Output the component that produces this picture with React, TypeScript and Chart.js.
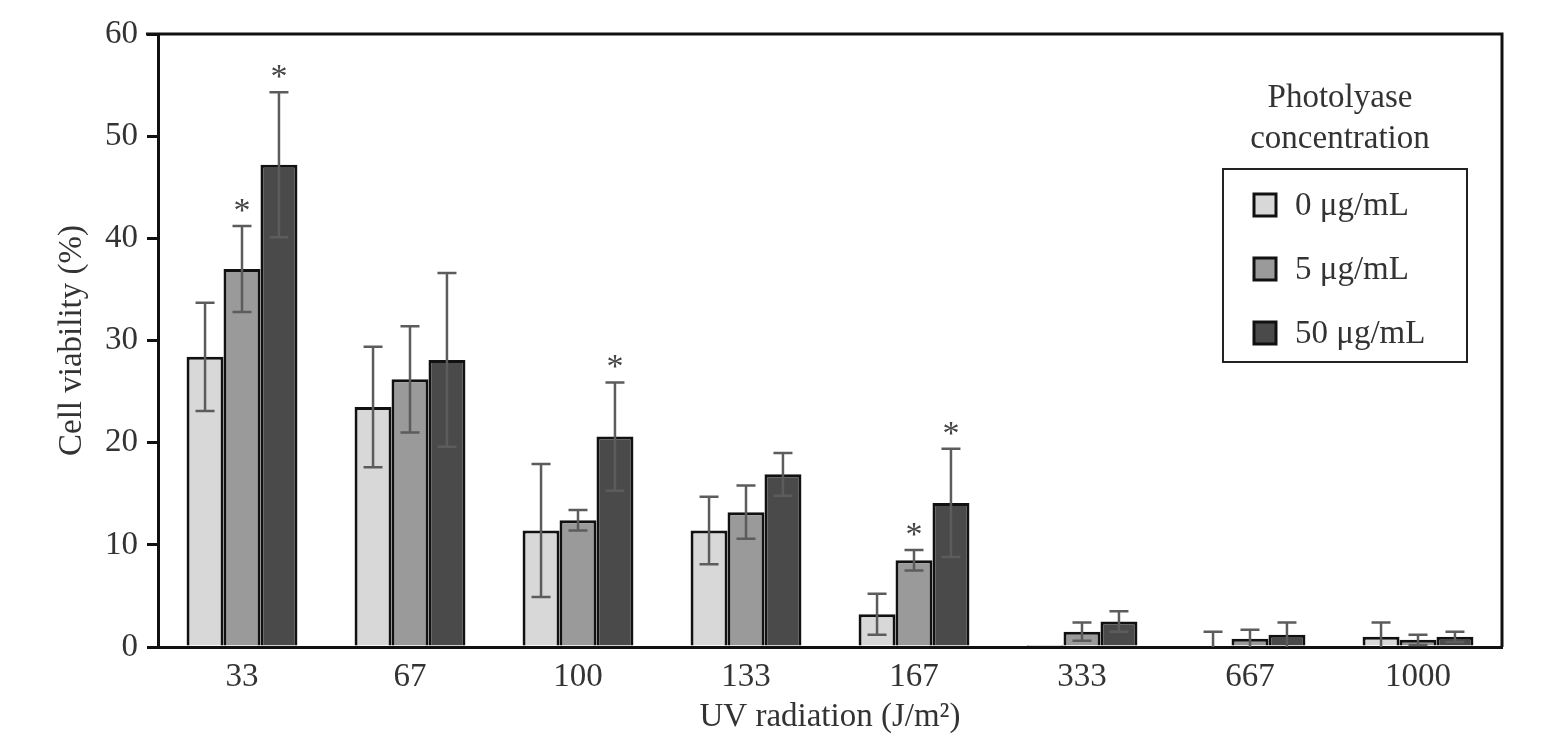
import React, { useEffect, useRef } from "react";
import { Chart, registerables } from "chart.js";

Chart.register(...registerables);

const categories = ["33", "67", "100", "133", "167", "333", "667", "1000"];
const seriesLabels = ["0 μg/mL", "5 μg/mL", "50 μg/mL"];
const seriesColors = ["#d8d8d8", "#9a9a9a", "#4a4a4a"];

const values0 = [28.4, 23.5, 11.4, 11.4, 3.2, 0.2, 0.0, 1.0];
const values5 = [37.0, 26.2, 12.4, 13.2, 8.5, 1.5, 0.8, 0.7];
const values50 = [47.2, 28.1, 20.6, 16.9, 14.1, 2.5, 1.2, 1.0];

const errors0 = [5.3, 5.9, 6.5, 3.3, 2.0, 0, 1.5, 1.4];
const errors5 = [4.2, 5.2, 1.0, 2.6, 1.0, 0.9, 0.9, 0.5];
const errors50 = [7.1, 8.5, 5.3, 2.1, 5.3, 1.0, 1.2, 0.5];

// significance markers: [seriesIndex, categoryIndex]
const significance: [number, number][] = [
  [1, 0],
  [2, 0],
  [2, 2],
  [1, 4],
  [2, 4],
];

const yTicks = [0, 10, 20, 30, 40, 50, 60];
const legendTitle = ["Photolyase", "concentration"];
const yTitle = "Cell viability (%)";
const xTitle = "UV radiation (J/m²)";

const FONT = "'Liberation Serif', 'DejaVu Serif', serif";
const TEXT = "#333333";
const FS = 33;

const allValues = [values0, values5, values50];
const allErrors = [errors0, errors5, errors50];

const overlayPlugin = {
  id: "overlay",
  afterDatasetsDraw(chart: any) {
    const { ctx, chartArea } = chart;
    const y = chart.scales.y;
    ctx.save();
    ctx.save();
    ctx.beginPath();
    ctx.rect(chartArea.left, chartArea.top, chartArea.right - chartArea.left, chartArea.bottom - chartArea.top);
    ctx.clip();
    ctx.strokeStyle = "#5c5c5c";
    ctx.lineWidth = 2.5;
    allValues.forEach((vals, si) => {
      const meta = chart.getDatasetMeta(si);
      vals.forEach((v, ci) => {
        const e = allErrors[si][ci];
        if (!e) return;
        const bar = meta.data[ci];
        const x = bar.x;
        const yTop = y.getPixelForValue(v + e);
        const yBot = y.getPixelForValue(Math.max(v - e, 0));
        const cap = 9.5;
        ctx.beginPath();
        ctx.moveTo(x, yTop);
        ctx.lineTo(x, yBot);
        ctx.moveTo(x - cap, yTop);
        ctx.lineTo(x + cap, yTop);
        if (v - e > 0) {
          ctx.moveTo(x - cap, yBot);
          ctx.lineTo(x + cap, yBot);
        }
        ctx.stroke();
      });
    });
    ctx.restore();

    // asterisks
    ctx.fillStyle = "#444444";
    ctx.font = `34px ${FONT}`;
    ctx.textAlign = "center";
    ctx.textBaseline = "alphabetic";
    significance.forEach(([si, ci]) => {
      const bar = chart.getDatasetMeta(si).data[ci];
      const top = y.getPixelForValue(allValues[si][ci] + allErrors[si][ci]);
      ctx.fillText("*", bar.x, top - 5);
    });

    // top and right frame
    ctx.strokeStyle = "#111111";
    ctx.lineWidth = 3;
    ctx.beginPath();
    ctx.moveTo(chartArea.left - 12, chartArea.top);
    ctx.lineTo(chartArea.right, chartArea.top);
    ctx.lineTo(chartArea.right, chartArea.bottom);
    ctx.stroke();

    // legend
    ctx.fillStyle = TEXT;
    ctx.font = `${FS}px ${FONT}`;
    ctx.textAlign = "center";
    ctx.textBaseline = "middle";
    ctx.fillText(legendTitle[0], 1340, 98);
    ctx.fillText(legendTitle[1], 1340, 139);
    ctx.strokeStyle = "#222222";
    ctx.lineWidth = 2;
    ctx.strokeRect(1223, 169, 244, 193);
    ctx.textAlign = "left";
    seriesLabels.forEach((lab, i) => {
      const cy = 205 + i * 64;
      ctx.fillStyle = seriesColors[i];
      ctx.fillRect(1254, cy - 11, 22, 22);
      ctx.strokeStyle = "#111111";
      ctx.lineWidth = 3;
      ctx.strokeRect(1254, cy - 11, 22, 22);
      ctx.fillStyle = TEXT;
      ctx.fillText(lab, 1295, cy + 1);
    });
    ctx.restore();
  },
};

export default function App() {
  const ref = useRef<HTMLCanvasElement | null>(null);
  useEffect(() => {
    document.body.style.margin = "0";
    const canvas = ref.current;
    if (!canvas) return;
    const chart = new Chart(canvas, {
      type: "bar",
      data: {
        labels: categories,
        datasets: allValues.map((vals, i) => ({
          label: seriesLabels[i],
          data: vals,
          backgroundColor: seriesColors[i],
          borderColor: "#111111",
          borderWidth: 3,
          categoryPercentage: 0.66,
          barPercentage: 1.0,
        })),
      },
      options: {
        animation: false,
        responsive: false,
        maintainAspectRatio: false,
        layout: { padding: { left: 0, right: 49, top: 34, bottom: 0 } },
        plugins: {
          legend: { display: false },
          tooltip: { enabled: false },
        },
        scales: {
          x: {
            grid: { display: false },
            border: { display: true, color: "#111111", width: 3 },
            ticks: {
              color: TEXT,
              font: { family: FONT, size: FS },
              padding: 3,
            },
            title: {
              display: true,
              text: xTitle,
              color: TEXT,
              font: { family: FONT, size: FS },
              padding: { top: 4, bottom: 0 },
            },
            afterFit: (s: any) => {
              s.height = 90;
            },
          },
          y: {
            min: 0,
            max: 60,
            afterBuildTicks: (s: any) => {
              s.ticks = yTicks.map((v) => ({ value: v }));
            },
            grid: {
              display: true,
              drawOnChartArea: false,
              drawTicks: true,
              tickLength: 11,
              color: "#111111",
              lineWidth: 3,
            },
            border: { display: true, color: "#111111", width: 3 },
            ticks: {
              color: TEXT,
              font: { family: FONT, size: FS },
              padding: 9,
            },
            title: {
              display: true,
              text: yTitle,
              color: TEXT,
              font: { family: FONT, size: FS },
              padding: { top: 53, bottom: 0 },
            },
            afterFit: (s: any) => {
              s.width = 158;
            },
          },
        },
      },
      plugins: [overlayPlugin],
    });
    return () => chart.destroy();
  }, []);
  return (
    <div style={{ width: 1551, height: 737, background: "#ffffff" }}>
      <canvas ref={ref} width={1551} height={737} style={{ display: "block" }} />
    </div>
  );
}
